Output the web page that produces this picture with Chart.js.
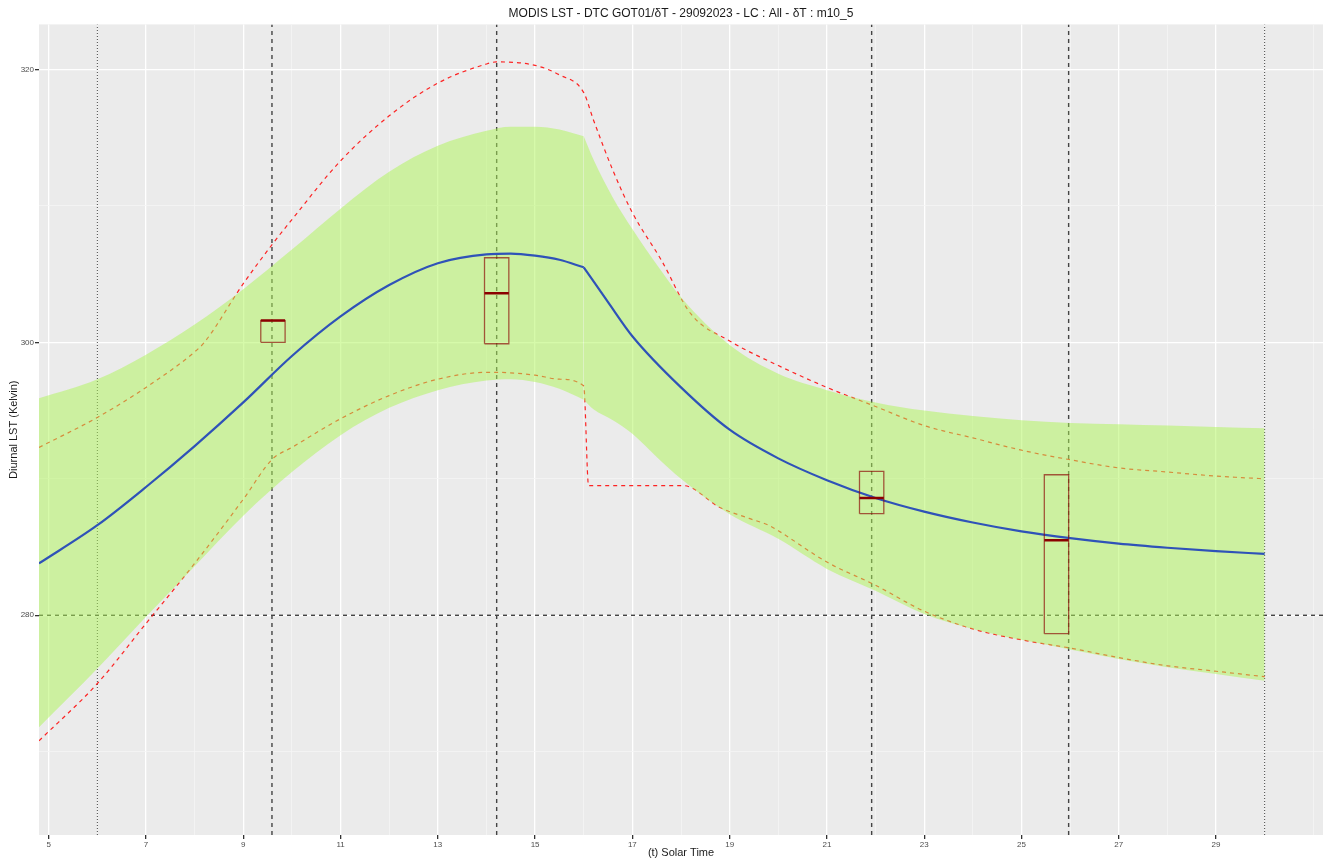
<!DOCTYPE html>
<html lang="en">
<head>
<meta charset="UTF-8">
<title>MODIS LST - DTC GOT01</title>
<script src="https://cdn.jsdelivr.net/npm/chart.js"></script>
<style>
  body { margin: 0; background: #ffffff; }
  #wrap { width: 1323px; height: 862px; }
</style>
</head>
<body>
<div id="wrap"><canvas id="dtcChart" width="1323" height="862"></canvas></div>
<script>
// ---- axes ----
const xRange = [4.8, 31.2];
const yRange = [263.9, 323.3];
const xTicks = [5, 6, 7, 8, 9, 10, 11, 12, 13, 14, 15, 16, 17, 18, 19, 20, 21, 22, 23, 24, 25, 26, 27, 28, 29, 30, 31];
const xLabelled = [5, 7, 9, 11, 13, 15, 17, 19, 21, 23, 25, 27, 29];
const yTicks = [270, 280, 290, 300, 310, 320];
const yLabelled = [280, 300, 320];

// hour where the model switches from the day part to the night part
const switchHour = 16;

// ---- mean diurnal curve (blue) ----
const meanHours = [4.8, 6, 7, 8, 9, 10, 11, 12, 13, 14, 14.5, 15, 15.5, 16, 16.5, 17, 18, 19, 20, 21, 22, 23, 24, 25, 26, 27, 28, 29, 30];
const meanLST   = [283.8, 286.6, 289.4, 292.4, 295.6, 299.0, 301.9, 304.2, 305.8, 306.45, 306.5, 306.35, 306.05, 305.5, 302.95, 300.45, 296.7, 293.6, 291.5, 289.9, 288.6, 287.6, 286.8, 286.15, 285.65, 285.25, 284.95, 284.7, 284.5];

// ---- confidence ribbon (green) ----
const bandHours = [4.8, 6, 7, 8, 9, 10, 11, 12, 13, 14, 14.5, 15, 15.5, 16, 16.2, 16.6, 17, 17.5, 18, 19, 20, 21, 22, 23, 24, 25, 26, 27, 28, 29, 30];
const bandUpper = [295.9, 297.3, 299.1, 301.3, 303.9, 306.8, 309.8, 312.5, 314.4, 315.5, 315.8, 315.8, 315.6, 315.1, 313.4, 310.6, 308.3, 305.7, 303.3, 299.8, 297.7, 296.5, 295.6, 295.0, 294.6, 294.3, 294.1, 294.0, 293.9, 293.8, 293.7];
const bandLower = [271.8, 276.1, 279.9, 283.6, 287.3, 290.5, 293.2, 295.2, 296.5, 297.2, 297.3, 297.1, 296.6, 295.8, 295.1, 294.3, 293.3, 291.6, 290.0, 287.4, 285.6, 283.4, 281.8, 280.1, 279.0, 278.2, 277.5, 276.8, 276.2, 275.7, 275.2];

// ---- envelope limits (red dashed) ----
const maxHours = [4.8, 6, 7, 8, 8.2, 9, 9.6, 10, 11, 12, 13, 14, 14.2, 15, 15.5, 16, 16.2, 16.6, 17, 17.6, 18.2, 19, 20, 21, 22, 23, 24, 25, 26, 27, 28, 29, 30];
const maxLST   = [292.3, 294.5, 296.7, 299.3, 300.0, 304.3, 307.2, 309.0, 313.3, 316.6, 319.0, 320.4, 320.55, 320.3, 319.6, 318.3, 316.3, 312.6, 309.5, 306.0, 302.1, 300.1, 298.3, 296.7, 295.3, 293.9, 293.0, 292.1, 291.4, 290.8, 290.5, 290.2, 290.0];
const minHours = [4.8, 6, 7, 8, 9, 9.6, 10, 11, 12, 13, 14, 14.2, 15, 15.5, 16, 16.1, 18.05, 18.8, 19.4, 19.8, 20, 21, 22, 23, 24, 25, 26, 27, 28, 29, 30];
const minLST   = [270.8, 275.0, 279.4, 283.8, 288.5, 291.45, 292.3, 294.4, 296.1, 297.3, 297.8, 297.8, 297.6, 297.3, 296.8, 289.5, 289.5, 287.9, 287.1, 286.6, 286.2, 283.9, 282.2, 280.3, 279.0, 278.2, 277.6, 276.9, 276.3, 275.9, 275.5];

// ---- MODIS observations (boxes) ----
const obsHours  = [9.61, 14.21, 21.92, 25.72];
const obsQ1     = [300.0, 299.9, 287.45, 278.65];
const obsMedian = [301.6, 303.6, 288.6, 285.5];
const obsQ3     = [301.6, 306.2, 290.55, 290.3];
const boxHalfWidth = 0.25;

// ---- reference lines ----
const passHours = [9.59, 14.21, 21.92, 25.97];
const dayBounds = [6, 30];
const refLST = [280];

const FONT = '"Liberation Sans", Arial, sans-serif';

function pts(xs, ys) {
  return xs.map((x, i) => ({ x: x, y: ys[i] }));
}
// day part (<= switchHour) and night part (>= switchHour), so the kink stays sharp
function dayPart(p) { return p.filter(d => d.x <= switchHour); }
function nightPart(p) { return p.filter(d => d.x >= switchHour); }

const datasets = [];

function addLine(data, style, order) {
  datasets.push(Object.assign({
    data: data,
    pointRadius: 0,
    borderWidth: 1,
    fill: false,
    order: order,
  }, style));
}

// reference lines, lowest layer
passHours.forEach(h => addLine([{ x: h, y: yRange[0] }, { x: h, y: yRange[1] }],
  { borderColor: '#444444', borderWidth: 1.4, borderDash: [4, 4] }, 5));
dayBounds.forEach(h => addLine([{ x: h, y: yRange[0] }, { x: h, y: yRange[1] }],
  { borderColor: '#333333', borderWidth: 0.9, borderDash: [1, 2] }, 5));
refLST.forEach(v => addLine([{ x: xRange[0], y: v }, { x: xRange[1], y: v }],
  { borderColor: '#444444', borderWidth: 1.4, borderDash: [4, 4] }, 5));

// envelopes
const redStyle = { borderColor: 'rgba(255,0,0,0.85)', borderWidth: 1.2, borderDash: [4, 4], cubicInterpolationMode: 'monotone' };
addLine(pts(maxHours, maxLST), redStyle, 4);
addLine(pts(minHours, minLST), redStyle, 4);

// ribbon, one pair per part
const upperPts = pts(bandHours, bandUpper);
const lowerPts = pts(bandHours, bandLower);
[dayPart, nightPart].forEach(part => {
  addLine(part(upperPts), { borderWidth: 0, borderColor: 'rgba(0,0,0,0)', backgroundColor: 'rgba(173,245,85,0.5)', fill: '+1', cubicInterpolationMode: 'monotone' }, 3);
  addLine(part(lowerPts), { borderWidth: 0, borderColor: 'rgba(0,0,0,0)', cubicInterpolationMode: 'monotone' }, 3);
});

// mean curve
const meanPts = pts(meanHours, meanLST);
[dayPart, nightPart].forEach(part => {
  addLine(part(meanPts), { borderColor: '#2f52b8', borderWidth: 2.2, cubicInterpolationMode: 'monotone' }, 2);
});

// boxes
obsHours.forEach((h, i) => {
  const x0 = h - boxHalfWidth, x1 = h + boxHalfWidth;
  addLine([
    { x: x0, y: obsQ1[i] }, { x: x1, y: obsQ1[i] }, { x: x1, y: obsQ3[i] },
    { x: x0, y: obsQ3[i] }, { x: x0, y: obsQ1[i] }
  ], { borderColor: 'rgba(139,0,0,0.65)', borderWidth: 1.3 }, 1);
  addLine([{ x: x0, y: obsMedian[i] }, { x: x1, y: obsMedian[i] }],
    { borderColor: '#8b0000', borderWidth: 2.5 }, 0);
});

const panelBg = {
  id: 'panelBg',
  beforeDraw(chart) {
    const { ctx, chartArea: a } = chart;
    ctx.save();
    ctx.fillStyle = '#ebebeb';
    ctx.fillRect(a.left, a.top, a.right - a.left, a.bottom - a.top);
    ctx.restore();
  }
};

new Chart(document.getElementById('dtcChart'), {
  type: 'line',
  data: { datasets: datasets },
  plugins: [panelBg],
  options: {
    responsive: false,
    animation: false,
    layout: { padding: 0 },
    plugins: {
      legend: { display: false },
      tooltip: { enabled: false },
      title: {
        display: true,
        fullSize: false,
        text: 'MODIS LST - DTC GOT01/δT - 29092023 - LC : All - δT : m10_5',
        color: '#1a1a1a',
        font: { family: FONT, size: 12, weight: 'normal' },
        padding: { top: 6, bottom: 4 },
      },
    },
    scales: {
      x: {
        type: 'linear',
        min: xRange[0],
        max: xRange[1],
        afterBuildTicks(scale) { scale.ticks = xTicks.map(v => ({ value: v })); },
        afterFit(scale) { scale.height = 27; },
        border: { display: false },
        grid: {
          color: c => xLabelled.includes(c.tick && c.tick.value) ? '#ffffff' : '#f5f5f5',
          lineWidth: c => xLabelled.includes(c.tick && c.tick.value) ? 1.3 : 0.8,
          tickColor: c => xLabelled.includes(c.tick && c.tick.value) ? '#333333' : 'rgba(0,0,0,0)',
          tickLength: 4,
        },
        ticks: {
          autoSkip: false,
          maxRotation: 0,
          padding: 1,
          color: '#4d4d4d',
          font: { family: FONT, size: 8 },
          callback: v => xLabelled.includes(v) ? String(v) : '',
        },
        title: {
          display: true,
          text: '(t) Solar Time',
          color: '#1a1a1a',
          font: { family: FONT, size: 11 },
          padding: { top: 0, bottom: 2 },
        },
      },
      y: {
        type: 'linear',
        min: yRange[0],
        max: yRange[1],
        afterBuildTicks(scale) { scale.ticks = yTicks.map(v => ({ value: v })); },
        afterFit(scale) { scale.width = 39; },
        border: { display: false },
        grid: {
          color: c => yLabelled.includes(c.tick && c.tick.value) ? '#ffffff' : '#f5f5f5',
          lineWidth: c => yLabelled.includes(c.tick && c.tick.value) ? 1.3 : 0.8,
          tickColor: c => yLabelled.includes(c.tick && c.tick.value) ? '#333333' : 'rgba(0,0,0,0)',
          tickLength: 4,
        },
        ticks: {
          autoSkip: false,
          padding: 1,
          color: '#4d4d4d',
          font: { family: FONT, size: 8 },
          callback: v => yLabelled.includes(v) ? String(v) : '',
        },
        title: {
          display: true,
          text: 'Diurnal LST (Kelvin)',
          color: '#1a1a1a',
          font: { family: FONT, size: 11 },
          padding: { top: 7, bottom: 0 },
        },
      },
    },
  },
});
</script>
</body>
</html>
